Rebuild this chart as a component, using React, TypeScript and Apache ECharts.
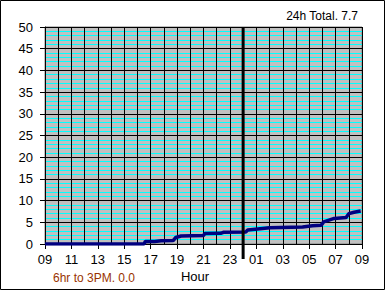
import React, { useEffect, useRef } from "react";
import * as echarts from "echarts";

// Clock hours since 09:00 of the first day (24 = midnight, 33 = 09:00 next day)
const hours = [9, 16.5, 16.6, 17.3, 17.8, 18.7, 18.9, 19.3, 20.1, 21.0, 21.1, 22.3, 22.5, 24.2, 24.35, 25.1, 26.0, 28.5, 29.25, 29.9, 30.1, 30.5, 30.9, 31.8, 32.0, 32.4, 32.9];
const rainfall = [0, 0, 0.6, 0.6, 0.75, 0.8, 1.5, 1.85, 1.9, 1.95, 2.4, 2.45, 2.7, 2.75, 3.2, 3.45, 3.75, 3.9, 4.2, 4.3, 5.1, 5.5, 5.9, 6.1, 7.0, 7.3, 7.6];
const START_HOUR = 9;
const MIDNIGHT = 24;
const totalLabel = "24h Total. 7.7";
const sixHrLabel = "6hr to 3PM. 0.0";
const xName = "Hour";

const FONT = "Liberation Sans, Arial, sans-serif";

export default function App() {
  const ref = useRef<HTMLDivElement>(null);
  useEffect(() => {
    if (!ref.current) return;
    const chart = echarts.init(ref.current, null, { renderer: "svg" });
    const pad = (n: number) => (n < 10 ? "0" + n : "" + n);
    chart.setOption({
      animation: false,
      backgroundColor: "#ffffff",
      grid: {
        left: 45,
        top: 27,
        width: 317,
        height: 217,
        show: true,
        backgroundColor: "#C0C0C0",
        borderColor: "#808080",
        borderWidth: 1,
      },
      xAxis: {
        type: "value",
        min: 0,
        max: 24,
        interval: 2,
        z: 1,
        axisLine: { lineStyle: { color: "#000", width: 1 } },
        axisTick: { length: 5, lineStyle: { color: "#000" } },
        axisLabel: {
          formatter: (v: number) => pad((v + START_HOUR) % 24),
          color: "#000",
          fontSize: 13,
          fontFamily: FONT,
          margin: 9,
        },
        splitLine: { show: true, lineStyle: { color: "#000", width: 1 } },
        minorTick: { show: false, splitNumber: 2 },
        minorSplitLine: { show: true, lineStyle: { color: "#000", width: 1 } },
      },
      yAxis: {
        type: "value",
        min: 0,
        max: 50,
        interval: 5,
        axisLine: { show: true, lineStyle: { color: "#000", width: 1 } },
        axisTick: { show: true, length: 5, lineStyle: { color: "#000" } },
        axisLabel: { color: "#000", fontSize: 13, fontFamily: FONT, margin: 12 },
        splitLine: { show: true, lineStyle: { color: "#000", width: 1 } },
        minorTick: { show: false, splitNumber: 5 },
        minorSplitLine: { show: true, lineStyle: { color: "#00FFFF", width: 1 } },
      },
      series: [
        {
          type: "line",
          data: hours.map((h, i) => [h - START_HOUR, rainfall[i]]),
          showSymbol: false,
          lineStyle: { color: "#000080", width: 3.5 },
          z: 5,
        },
      ],
    });
    const mx = chart.convertToPixel({ xAxisIndex: 0 }, MIDNIGHT - START_HOUR) as number;
    const yTop = chart.convertToPixel({ yAxisIndex: 0 }, 50) as number;
    const yBot = chart.convertToPixel({ yAxisIndex: 0 }, 0) as number;
    chart.setOption({
      graphic: [
        {
          type: "rect",
          shape: { x: 0.5, y: 0.5, width: 384, height: 289 },
          style: { fill: "none", stroke: "#000", lineWidth: 1 },
          z: 10,
        },
        {
          type: "line",
          shape: { x1: mx, y1: yTop, x2: mx, y2: yBot + 15 },
          style: { stroke: "#000", lineWidth: 3 },
          z: 10,
        },
        {
          type: "text",
          x: 358,
          y: 16,
          style: { text: totalLabel, fill: "#000", font: `12px ${FONT}`, align: "right", verticalAlign: "middle" },
          z: 10,
        },
        {
          type: "text",
          x: 195,
          y: 276,
          style: { text: xName, fill: "#000", font: `13px ${FONT}`, align: "center", verticalAlign: "middle" },
          z: 10,
        },
        {
          type: "text",
          x: 94,
          y: 278,
          style: { text: sixHrLabel, fill: "#993300", font: `12px ${FONT}`, align: "center", verticalAlign: "middle" },
          z: 10,
        },
      ],
    });
    return () => chart.dispose();
  }, []);
  return (
    <div
      ref={ref}
      style={{ position: "fixed", left: 0, top: 0, width: 385, height: 290 }}
    />
  );
}
